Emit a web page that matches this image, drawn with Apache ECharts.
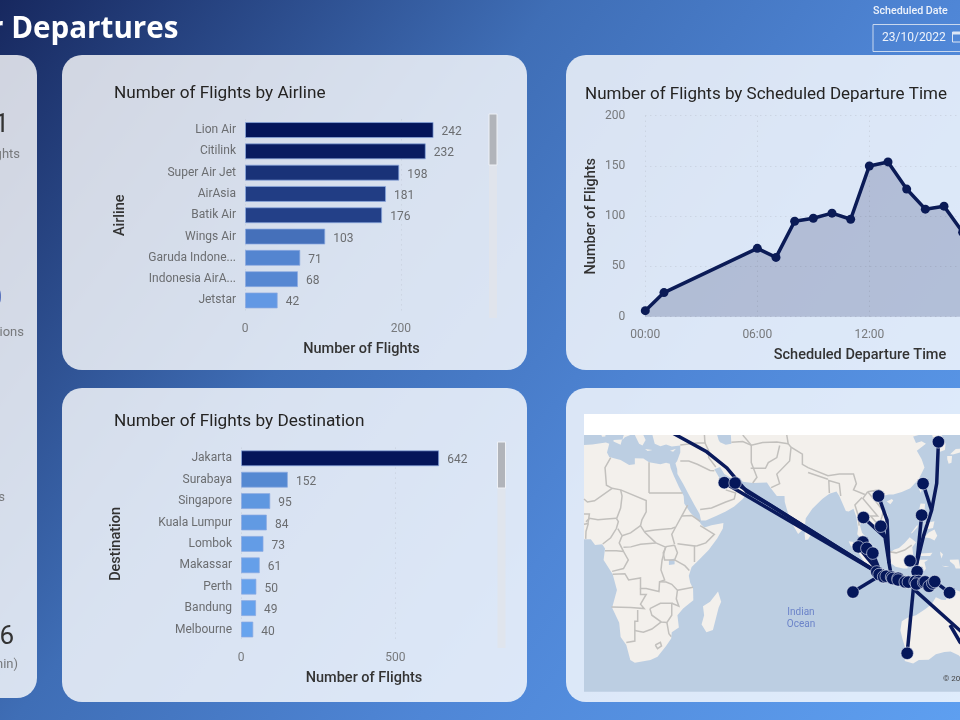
<!DOCTYPE html>
<html>
<head>
<meta charset="utf-8">
<title>Departures</title>
<script src="https://cdn.jsdelivr.net/npm/echarts@6/dist/echarts.min.js"></script>
<style>
  html, body { margin: 0; padding: 0; background: #3f6eb6; }
  #chart { width: 960px; height: 720px; }
</style>
</head>
<body>
<div id="chart"></div>
<script>
// values
const airlineNames = ['Lion Air', 'Citilink', 'Super Air Jet', 'AirAsia', 'Batik Air', 'Wings Air', 'Garuda Indone...', 'Indonesia AirA...', 'Jetstar'];
const airlineFlights = [242, 232, 198, 181, 176, 103, 71, 68, 42];
const airlineTicks = [0, 200];

const destinationNames = ['Jakarta', 'Surabaya', 'Singapore', 'Kuala Lumpur', 'Lombok', 'Makassar', 'Perth', 'Bandung', 'Melbourne'];
const destinationFlights = [642, 152, 95, 84, 73, 61, 50, 49, 40];
const destinationTicks = [0, 500];

const departureHours = [0, 1, 6, 7, 8, 9, 10, 11, 12, 13, 14, 15, 16, 17];
const departureFlights = [6, 24, 68, 59, 95, 98, 103, 97, 150, 154, 127, 107, 110, 84];
const hourTicks = [0, 6, 12, 18];

// map: [name, lon, lat]
const airports = [
  ['Doha', 51.5, 25.3], ['Dubai', 55.3, 25.2], ['Seoul', 126.9, 37.5], ['Taipei', 121.5, 25.0],
  ['Manila', 121.0, 14.6], ['Hanoi', 105.8, 21.0], ['Bangkok', 100.5, 13.8], ['Ho Chi Minh', 106.6, 10.8],
  ['Penang', 100.3, 5.3], ['Medan', 98.7, 3.6], ['Kuala Lumpur', 101.7, 3.1], ['Singapore', 103.8, 1.4],
  ['Balikpapan', 116.9, -1.3], ['Makassar', 119.4, -5.1], ['Cocos', 96.8, -12.2], ['Darwin', 130.8, -12.4],
  ['Perth', 115.9, -32.0], ['Jakarta', 106.8, -6.2], ['Tanjung Karang', 105.2, -5.2], ['Serang', 106.0, -6.1],
  ['Bandung', 107.6, -6.9], ['Cirebon', 108.5, -6.7], ['Semarang', 110.4, -7.0], ['Solo', 110.8, -7.5], ['Surabaya', 112.7, -7.4],
  ['Malang', 112.7, -8.0], ['Denpasar', 115.2, -8.7], ['Lombok', 116.3, -8.75], ['Bima', 118.7, -8.5],
  ['Labuan Bajo', 119.9, -8.5], ['Tambolaka', 119.2, -9.4], ['Ende', 121.7, -8.85], ['Maumere', 122.2, -8.65],
  ['Kupang', 123.6, -10.2], ['Atambua', 124.9, -9.1], ['Dili', 125.6, -8.55]
];

// flight paths as [lon, lat] way points
const routes = [
  [[32, 40.5], [45.3, 34.7], [52.4, 29.9], [59.4, 22.4], [67.6, 18], [106.8, -6.2]],
  [[51.5, 25.3], [106.8, -6.2]],
  [[55.3, 25.2], [106.8, -6.2]],
  [[96.8, -12.2], [106.8, -6.2]],
  [[103.8, 1.4], [106.8, -6.2]],
  [[101.7, 3.1], [106.8, -6.2]],
  [[98.7, 3.6], [106.8, -6.2]],
  [[105.8, 21], [108.8, 12.9], [109.5, -2.1], [110.4, -7]],
  [[100.5, 13.8], [108.1, 7], [109.5, -2.1]],
  [[106.6, 10.8], [108.1, 7]],
  [[126.9, 37.5], [126.3, 25.1], [124.5, 16.2], [121.6, 7.2], [119.3, -2.2], [118.1, -9.3]],
  [[121.5, 25], [124.5, 16.2]],
  [[121, 14.6], [119.3, -2.2]],
  [[115.9, -32], [118.3, -8.7]],
  [[118.7, -8.7], [118.7, -11.6], [148.6, -35.8]],
  [[131, -23.2], [134.5, -28.6], [145, -37.8]],
  [[125.6, -8.55], [130.8, -12.4]]
];

const mapExtent = [[2.1, -42.7], [134.5, -42.7], [134.5, 39.4], [2.1, 39.4], [2.1, -42.7]];

const landShapes = [
  // Africa
  [[2.1, 36.6], [5, 36.8], [9.8, 37.3], [11, 37], [10.2, 34.5], [11, 33.2], [15, 32.3], [18, 30.8], [20, 31], [20, 32.8], [23, 32.7], [25, 31.6], [29, 31], [31, 31.5], [32.3, 31.2], [32.6, 29.9], [33.6, 27.7], [35.5, 24], [37.2, 21], [37.4, 18.5], [39.5, 15.5], [43, 12], [43.3, 11.5], [44.5, 10.4], [47, 11.1], [51.2, 11.9], [51, 10], [49, 6.5], [46, 2.5], [42, -1.5], [40, -3.5], [39, -6.5], [39.5, -9], [40.5, -11], [40.6, -15], [37, -17.8], [35, -20], [35.5, -24], [33, -25.5], [32.8, -27.5], [31, -29.8], [28, -33], [25.5, -34], [20, -34.8], [18.4, -34], [17, -29.5], [15, -27], [14.5, -22.5], [12, -17.5], [13.7, -11.5], [12.2, -6], [9, -1], [9.5, 3], [8.5, 4.5], [6, 4.3], [4.5, 6.3], [2.1, 6.3], [2.1, 36.6]],
  // Madagascar
  [[49.3, -12], [50.4, -15.5], [49.5, -17.5], [47.5, -24.8], [45.2, -25.5], [43.5, -23], [44.4, -20], [44, -17], [46.5, -15.5], [49.3, -12]],
  // Asia
  [[26.2, 39.4], [27, 37], [29, 36.3], [31, 36.8], [33, 36.2], [36, 36.5], [36, 34.5], [34.9, 32], [34.3, 31.3], [34.9, 29.5], [35, 28], [37, 25], [39, 21.5], [41, 18], [42.8, 15], [43.3, 12.8], [45, 12.8], [49, 14.5], [52, 15.8], [55, 17.5], [58, 20], [59.8, 22.5], [58.5, 23.7], [56.4, 24.8], [56.3, 26.2], [54.5, 24.3], [52, 24], [51.5, 26], [50.8, 25], [50, 26.5], [48, 29.5], [50, 30.2], [51.5, 28], [54, 26.7], [57, 26.8], [58, 25.6], [61.5, 25.2], [66.5, 25.4], [67.5, 24], [70, 21], [72.7, 21], [72.8, 19], [74, 15], [75.5, 11.5], [77.5, 8.1], [79.8, 10.3], [80.2, 13.5], [82.5, 16.8], [86, 20], [88.5, 21.7], [91, 22.5], [92, 21], [94.3, 16], [95.3, 15.8], [97, 16.8], [98, 14], [98.6, 10], [98.3, 8], [100.4, 5.5], [101.3, 3], [103.5, 1.3], [104.2, 1.4], [103.4, 4.5], [102, 6.2], [100, 8.5], [99.3, 11], [100, 13.4], [101, 12.7], [102.8, 11.5], [105, 10], [105, 8.7], [106.8, 10.4], [109.2, 11.8], [109, 15], [106.5, 18], [105.8, 19.2], [107, 21], [109.5, 21.5], [111, 21.5], [114, 22.3], [117, 23.5], [120, 26.5], [122, 30], [121, 32.5], [119.3, 35], [122.5, 37], [121, 37.7], [119, 37.2], [118, 39], [120, 39.4], [26.2, 39.4]],
  // Korea, Japan
  [[124.7, 39.4], [125.2, 38], [126.5, 37], [126.3, 34.5], [127.5, 34.7], [129.2, 35.2], [129.4, 37], [128, 39.4], [124.7, 39.4]],
  [[130, 33.5], [131.7, 33.5], [131.5, 31.5], [130.5, 31.2], [130, 32.5], [130, 33.5]],
  [[131, 34], [133, 35.5], [134.5, 35.6], [134.5, 34.5], [132, 33.9], [131, 34]],
  // Taiwan, Hainan, Sri Lanka
  [[121.5, 25.2], [121, 23], [120.7, 22], [120.1, 23.2], [121.5, 25.2]],
  [[108.7, 19.2], [110.5, 20], [111, 19.5], [110, 18.3], [108.7, 19.2]],
  [[80, 9.7], [81.8, 7.5], [81, 6.2], [80, 6], [79.8, 8], [80, 9.7]],
  // Mediterranean
  [[12.5, 38], [15.5, 38.2], [15, 36.7], [12.5, 37.6], [12.5, 38]],
  [[15.6, 38], [16.1, 39.4], [18.4, 39.4], [16.5, 38.8], [15.6, 38]],
  [[20, 39.4], [21.5, 37], [22.7, 36.5], [23.8, 38], [23, 39.4], [20, 39.4]],
  [[8.2, 39.4], [9.7, 39.4], [9.6, 39], [8.5, 38.9], [8.2, 39.4]],
  [[32.4, 35], [34.5, 35.6], [33.5, 34.7], [32.4, 35]],
  [[23.6, 35.5], [26.2, 35.2], [24.5, 34.95], [23.6, 35.5]],
  // Sumatra, Java, Borneo, Sulawesi
  [[95.3, 5.6], [97.5, 5.2], [100.3, 2.5], [103.5, -0.8], [106, -3], [105.8, -5.8], [104.5, -5.8], [102, -4], [100.3, -1], [98.7, 1.7], [96, 4], [95.3, 5.6]],
  [[105.2, -6.8], [106.5, -6], [108.5, -6.6], [110.8, -6.4], [112.7, -6.9], [114.5, -7.8], [114.4, -8.7], [111, -8.3], [108, -7.8], [106, -7.4], [105.2, -6.8]],
  [[109, 1.5], [110, 1.7], [111.4, 2.7], [113, 3.2], [115, 5], [116.8, 7], [119, 5.2], [117.7, 3.5], [118, 1], [117.5, 0], [116.5, -2], [116, -4], [114.5, -4], [111.8, -3.4], [110, -2], [109, 0], [109, 1.5]],
  [[119.8, 0.8], [120.8, 1.3], [124.8, 1.5], [124, 0.4], [120.5, 0.4], [120.2, -0.9], [121.5, -0.9], [123.3, -0.9], [122, -1.8], [122.5, -4], [122, -4.9], [121, -3], [120.4, -5.5], [119.5, -5.5], [119.5, -3.5], [118.8, -2.7], [119.8, -0.2], [119.8, 0.8]],
  // Lesser Sunda islands
  [[115, -8.3], [119, -8.3], [119, -8.8], [115.2, -8.8], [115, -8.3]],
  [[119.8, -8.4], [123, -8.2], [122.8, -8.8], [119.9, -8.8], [119.8, -8.4]],
  [[123.5, -10.3], [125, -9], [127.2, -8.4], [125, -9.9], [124, -10.3], [123.5, -10.3]],
  [[119, -9.5], [120.8, -9.9], [120, -10.2], [119, -9.5]],
  // Philippines
  [[120.6, 18.5], [122.2, 18.4], [122, 16], [124, 13], [121.5, 13.8], [120.5, 14.5], [120, 16], [120.6, 18.5]],
  [[122, 7], [123.5, 8.6], [125.5, 9.7], [126.5, 7.5], [125.5, 5.8], [124, 6.6], [122, 7]],
  [[122, 11.8], [125.5, 12.5], [125, 10.2], [122.5, 9.7], [122, 11.8]],
  [[117.2, 8.4], [119.5, 11.3], [119.6, 10.5], [117.6, 8.4], [117.2, 8.4]],
  // Maluku, Papua
  [[127.5, 2], [128.5, 1], [128, -0.5], [127.6, 0.8], [127.5, 2]],
  [[128, -3], [130.8, -3.3], [129.5, -3.5], [128, -3]],
  [[130.9, -0.9], [134, -0.8], [134.5, -3.5], [134.5, -4], [133, -4], [132.5, -2.8], [131, -1.5], [130.9, -0.9]],
  // Australia
  [[134.5, -12], [132.5, -11.3], [131, -12.2], [129.5, -14.9], [128, -14.8], [126, -14], [124.5, -16.3], [122.2, -18], [119, -20], [116, -20.8], [114, -22], [113.5, -25], [114.3, -27.8], [115.7, -31.8], [115, -34.3], [118, -35], [120, -34], [123.5, -33.9], [126, -32.3], [129, -31.6], [131.2, -31.5], [134, -32.6], [134.5, -33], [134.5, -12]]
];

const waterShapes = [
  [[49, 39.4], [49.5, 38], [50, 37.4], [52, 36.7], [54, 37], [53.8, 39.4], [49, 39.4]],
  [[32, -1], [34, -0.5], [34, -2.5], [32, -2.8], [32, -1]]
];

const borderLines = [
  [[25, 31.6], [25, 22]], [[25, 22], [36.8, 22]], [[11.5, 33], [9.5, 30], [10, 24.5], [12, 23.5], [15, 23], [24, 19.5], [24, 15.7], [22.5, 13], [22, 11], [23.5, 8.7], [27.4, 5]],
  [[15, 23], [15.5, 21], [15, 17], [13.7, 13.7], [13.5, 13.5]], [[12, 23.5], [5.8, 19.4], [3.3, 19], [2.1, 20]],
  [[2.8, 12.3], [4, 13.5], [7, 13], [10, 13.3], [13.5, 13.5]], [[3.6, 11.7], [2.8, 9], [2.7, 6.4]],
  [[13.5, 13.5], [14.2, 12.4], [13.5, 10], [11.5, 6.8], [8.7, 4.6]], [[14, 10], [15.5, 7.5], [14.5, 5], [16, 2]], [[15.5, 7.5], [18.5, 8.5], [22, 11]],
  [[16, 3.5], [18.6, 3.6], [22, 4.5], [27.4, 5]], [[23.5, 9], [27, 9.5], [33, 10], [34.2, 10.5]],
  [[38.6, 18], [36.5, 14.3], [34.5, 10.7], [33, 8], [34, 4.5]], [[36.5, 14.3], [40, 14.5], [43, 12.5]],
  [[43, 11], [48, 8], [45, 5], [42, 4], [41, 3.9]], [[35, 4.7], [41, 3.9], [41, -1.7]], [[34, -1], [37.6, -3], [39.2, -4.7]],
  [[34, 4.2], [35, 1.5], [34, -1], [30.5, -1], [30, 1.5], [31, 3.7], [34, 4.2]],
  [[12.2, -6], [16.5, -5.8], [17.8, -8], [22, -7.3], [22, -11], [24, -11], [28.5, -12], [28.7, -8.6], [30.5, -8], [29.2, -4.5], [29.6, -1], [30.8, 3.5], [27.4, 5]],
  [[9.5, 2.2], [13.5, 2.2], [16, 2], [17.7, -1], [16, -4], [12, -5]],
  [[11.8, -17.3], [18.5, -17.4], [23.3, -17.8], [22, -16.3], [24, -13], [22, -13], [22, -11]],
  [[21, -18.3], [21, -22], [20, -22], [20, -28.3], [17, -28.7]], [[20, -25], [23, -25.5], [26, -24.5], [29.3, -22.2]],
  [[25.3, -17.8], [29, -16], [33, -16], [33, -20], [31.3, -22.4], [29.3, -22.2], [26, -20], [25.3, -17.8]],
  [[28.7, -8.6], [31, -8.7], [33, -9.5], [35, -11.6], [34.6, -14.5], [35.5, -17], [33, -16]], [[35, -11.6], [40.5, -10.5]], [[31.3, -22.4], [32, -26], [32.8, -26.9]],
  [[27.2, -29.5], [29, -28.7], [29.4, -29.8], [28, -30.6], [27.2, -29.5]], [[2.1, 15], [4, 15], [3.5, 11.7], [2.1, 11.5]],
  [[36, 32], [39, 32], [42, 31], [46.5, 29.1], [48, 29]], [[43, 16.5], [47, 17], [52, 19], [55, 20], [55.5, 22], [52, 23]],
  [[36, 36.6], [42, 37.2], [44.7, 37.2], [46, 35], [46, 33], [48.5, 30.2]], [[44.7, 37.2], [44.5, 39.4]],
  [[61, 36.6], [61, 31.5], [63, 27], [61.5, 25.2]], [[54, 37.4], [58, 37.6], [61, 36.6], [65, 37.3], [70, 37.5], [74, 37]], [[60.8, 29.8], [66, 29.8], [67, 31.5], [70, 33], [71, 36.5]],
  [[58, 39.4], [61, 36.6]], [[68, 23.7], [71, 25], [70, 28], [74.5, 32], [75, 36]], [[73.5, 39.4], [74, 37], [75, 36], [79, 34], [79, 31], [81, 30], [88, 27.5], [92, 28], [97, 28], [98, 25], [97, 23], [101, 21.5]],
  [[81, 28.5], [88, 26.4]], [[88.5, 22], [88.3, 26], [92, 25], [92.5, 21]], [[100, 20.5], [97.5, 18], [98.5, 15], [99, 11]],
  [[102, 22.4], [105, 19], [107.5, 16], [107, 14], [106, 11]], [[106, 11], [103, 14.3], [105.5, 14.3], [100.3, 20.2], [102, 22.4]], [[102, 22.4], [106, 23], [108, 21.6]],
  [[100.2, 6.5], [102, 6.1]], [[109.6, 1.9], [112, 1.5], [115, 2.5], [117.5, 4.2]]
];

const mapGeoJson = {
  type: 'FeatureCollection',
  features: [
    { type: 'Feature', properties: { name: 'Ocean' }, geometry: { type: 'Polygon', coordinates: [mapExtent] } },
    { type: 'Feature', properties: { name: 'Land' }, geometry: { type: 'MultiPolygon', coordinates: landShapes.map(s => [s]) } },
    { type: 'Feature', properties: { name: 'Water' }, geometry: { type: 'MultiPolygon', coordinates: waterShapes.map(s => [s]) } }
  ]
};
echarts.registerMap('departures', mapGeoJson);

const mercator = {
  project: p => [p[0], -Math.log(Math.tan(Math.PI / 4 + p[1] * Math.PI / 360)) * 180 / Math.PI],
  unproject: p => [p[0], (2 * Math.atan(Math.exp(-p[1] * Math.PI / 180)) - Math.PI / 2) * 180 / Math.PI]
};

const titleFont = 'Roboto';
const bodyFont = 'Roboto';
const oceanColor = '#BCCEE2';
const panelFill = 'rgba(255,255,255,0.8)';
const dotted = { color: '#C5CDDA', type: [1, 4], width: 1 };

function panel(x, y, w, h) {
  return { type: 'rect', z: -10, silent: true, shape: { x, y, width: w, height: h, r: 20 }, style: { fill: panelFill } };
}
function label(text, x, y, size, color, align, weight, font) {
  return {
    type: 'text', z: 50, silent: true, x, y,
    style: { text, fill: color, fontFamily: font || bodyFont, fontSize: size, fontWeight: weight || 'normal', textAlign: align || 'left', textVerticalAlign: 'middle' }
  };
}
function scrollbar(x, top, thumbEnd, bottom) {
  return [
    { type: 'rect', z: 5, silent: true, shape: { x, y: top, width: 8, height: bottom - top }, style: { fill: 'rgba(225,228,234,0.75)' } },
    { type: 'rect', z: 6, silent: true, shape: { x, y: top, width: 8, height: thumbEnd - top }, style: { fill: '#B1B4BA', stroke: '#EEF1F6', lineWidth: 1 } }
  ];
}

// the two horizontal bar charts share everything but data and place
function barAxes(gridIndex, names, ticks, max, yName) {
  return {
    x: {
      type: 'value', gridIndex, min: 0, max,
      name: 'Number of Flights', nameLocation: 'middle', nameGap: 31,
      nameTextStyle: { fontFamily: titleFont, fontSize: 14.5, fontWeight: 500, color: '#333' },
      axisLine: { show: false }, axisTick: { show: false, customValues: ticks },
      axisLabel: { customValues: ticks, margin: 12, fontFamily: bodyFont, fontSize: 12, color: '#77797C' },
      splitLine: { show: true, lineStyle: dotted }
    },
    y: {
      type: 'category', gridIndex, data: names, inverse: true,
      name: yName, nameLocation: 'middle', nameGap: 117,
      nameTextStyle: { fontFamily: titleFont, fontSize: 14.5, fontWeight: 500, color: '#333' },
      axisLine: { show: false }, axisTick: { show: false },
      axisLabel: { margin: 9, padding: [4, 0, 0, 0], fontFamily: bodyFont, fontSize: 12, color: '#6B6D70' }
    }
  };
}
function barSeries(axisIndex, values) {
  return {
    type: 'bar', xAxisIndex: axisIndex, yAxisIndex: axisIndex, data: values, barWidth: 16,
    itemStyle: { borderColor: 'rgba(140,170,225,0.7)', borderWidth: 1 },
    label: { show: true, position: 'right', distance: 8, fontFamily: bodyFont, fontSize: 12, color: '#6B6D70', offset: [0, 2] }
  };
}

const airlineAxes = barAxes(0, airlineNames, airlineTicks, 299, 'Airline');
const destinationAxes = barAxes(1, destinationNames, destinationTicks, 797, 'Destination');
const titleStyle = size => ({ fontFamily: titleFont, fontSize: size, fontWeight: 'normal', color: '#252423' });

const chart = echarts.init(document.getElementById('chart'));
chart.setOption({
  animation: false,
  backgroundColor: new echarts.graphic.LinearGradient(0, 0, 1, 1, [
    { offset: 0, color: '#17285F' },
    { offset: 0.37, color: '#3F6EB6' },
    { offset: 0.64, color: '#4F86D6' },
    { offset: 1, color: '#5E9FF0' }
  ]),
  title: [
    { text: 'Number of Flights by Airline', left: 109, top: 80, textStyle: titleStyle(17.2) },
    { text: 'Number of Flights by Destination', left: 109, top: 408, textStyle: titleStyle(17.2) },
    { text: 'Number of Flights by Scheduled Departure Time', left: 580, top: 81, textStyle: titleStyle(17) }
  ],
  grid: [
    { left: 245, top: 119.4, width: 233, height: 191.7, outerBoundsMode: 'none' },
    { left: 241, top: 447.6, width: 246, height: 192.6, outerBoundsMode: 'none' },
    { left: 645.3, top: 115.7, width: 429.4, height: 201, outerBoundsMode: 'none' }
  ],
  xAxis: [
    airlineAxes.x,
    destinationAxes.x,
    {
      type: 'value', gridIndex: 2, min: 0, max: 23,
      name: 'Scheduled Departure Time', nameLocation: 'middle', nameGap: 31,
      nameTextStyle: { fontFamily: titleFont, fontSize: 14.5, fontWeight: 500, color: '#333' },
      axisLine: { show: false }, axisTick: { show: false, customValues: hourTicks },
      axisLabel: {
        customValues: hourTicks, margin: 12, fontFamily: bodyFont, fontSize: 12, color: '#77797C',
        formatter: h => String(h).padStart(2, '0') + ':00'
      },
      splitLine: { show: true, lineStyle: dotted }
    }
  ],
  yAxis: [
    airlineAxes.y,
    destinationAxes.y,
    {
      type: 'value', gridIndex: 2, min: 0, max: 200, interval: 50,
      name: 'Number of Flights', nameLocation: 'middle', nameGap: 46,
      nameTextStyle: { fontFamily: titleFont, fontSize: 14.5, fontWeight: 500, color: '#333' },
      axisLine: { show: false }, axisTick: { show: false },
      axisLabel: { margin: 20, fontFamily: bodyFont, fontSize: 12, color: '#77797C' },
      splitLine: { show: true, lineStyle: dotted }
    }
  ],
  visualMap: [
    { show: false, type: 'continuous', seriesIndex: 0, dimension: 0, min: 42, max: 242, inRange: { color: ['#6298E4', '#04155A'] } },
    { show: false, type: 'continuous', seriesIndex: 1, dimension: 0, min: 40, max: 642, inRange: { color: ['#68A4EE', '#04155A'] } }
  ],
  geo: {
    map: 'departures', projection: mercator, roam: false, silent: true,
    left: 584, top: 435, width: 376, height: 256.7,
    itemStyle: { areaColor: oceanColor, borderColor: 'rgba(0,0,0,0)', borderWidth: 0 },
    regions: [
      { name: 'Land', itemStyle: { areaColor: '#F3F0EC' } },
      { name: 'Water', itemStyle: { areaColor: oceanColor } }
    ],
    label: { show: false },
    emphasis: { disabled: true }
  },
  series: [
    barSeries(0, airlineFlights),
    barSeries(1, destinationFlights),
    {
      type: 'line', xAxisIndex: 2, yAxisIndex: 2, clip: false,
      data: departureHours.map((h, i) => [h, departureFlights[i]]),
      symbol: 'circle', symbolSize: 9,
      itemStyle: { color: '#0B1B56' },
      lineStyle: { color: '#0B1B56', width: 3.5 },
      areaStyle: { color: '#0B1B56', opacity: 0.2 }
    },
    {
      type: 'lines', coordinateSystem: 'geo', polyline: true, silent: true, z: 1,
      data: borderLines.map(coords => ({ coords })),
      lineStyle: { color: '#C2C0BD', width: 1.5, opacity: 1 }
    },
    {
      type: 'lines', coordinateSystem: 'geo', polyline: true, silent: true, z: 3,
      data: routes.map(coords => ({ coords })),
      lineStyle: { color: '#0A1A5C', width: 3.5, opacity: 1 }
    },
    {
      type: 'scatter', coordinateSystem: 'geo', silent: true, z: 4,
      data: airports.map(a => ({ name: a[0], value: [a[1], a[2]] })),
      symbol: 'circle', symbolSize: 12.5,
      itemStyle: { color: '#05175A', borderColor: '#E6EBF4', borderWidth: 0.6, opacity: 1 }
    }
  ],
  graphic: [
    panel(-40, 55, 77, 643),
    panel(62, 55, 465, 315),
    panel(62, 388, 465, 314),
    panel(566, 55, 440, 315),
    panel(566, 388, 440, 314),
    // empty map title strip, lies over the routes that leave the map
    { type: 'rect', z: 20, silent: true, shape: { x: 584, y: 414, width: 376, height: 21 }, style: { fill: '#FFFFFF' } },
    ...scrollbar(489, 114, 165, 318),
    ...scrollbar(497.5, 442, 488, 648),
    label('r Departures', -10, 30, 29.6, '#FFFFFF', 'left', 'bold', 'Open Sans'),
    label('1', 9, 125, 26, '#333333', 'right'),
    label('ghts', 20, 155, 13, '#77797C', 'right'),
    label('0', 2, 299, 26, '#1A3FA8', 'right'),
    label('ions', 24, 333, 13, '#77797C', 'right'),
    label('s', 5, 498, 13, '#77797C', 'right'),
    label('6', 14, 637, 26, '#333333', 'right'),
    label('min)', 18, 665, 13, '#77797C', 'right'),
    label('Scheduled Date', 873, 11, 10.7, '#EEF3FB', 'left', 500),
    { type: 'rect', z: 5, silent: true, shape: { x: 873, y: 24.5, width: 120, height: 27 }, style: { fill: 'none', stroke: '#C9D8EE', lineWidth: 1 } },
    label('23/10/2022', 882, 38, 12, '#EEF3FB'),
    { type: 'rect', z: 5, silent: true, shape: { x: 952.5, y: 32, width: 8, height: 10 }, style: { fill: 'none', stroke: '#DDE6F5', lineWidth: 1 } },
    { type: 'rect', z: 5, silent: true, shape: { x: 952.5, y: 32, width: 8, height: 2.5 }, style: { fill: '#DDE6F5' } },
    label('Indian', 801, 612, 10, '#6C84C9', 'center'),
    label('Ocean', 801, 624.5, 10, '#6C84C9', 'center'),
    label('© 2022 Microsoft Corporation', 943, 679, 8, '#444444')
  ]
});
</script>
</body>
</html>
